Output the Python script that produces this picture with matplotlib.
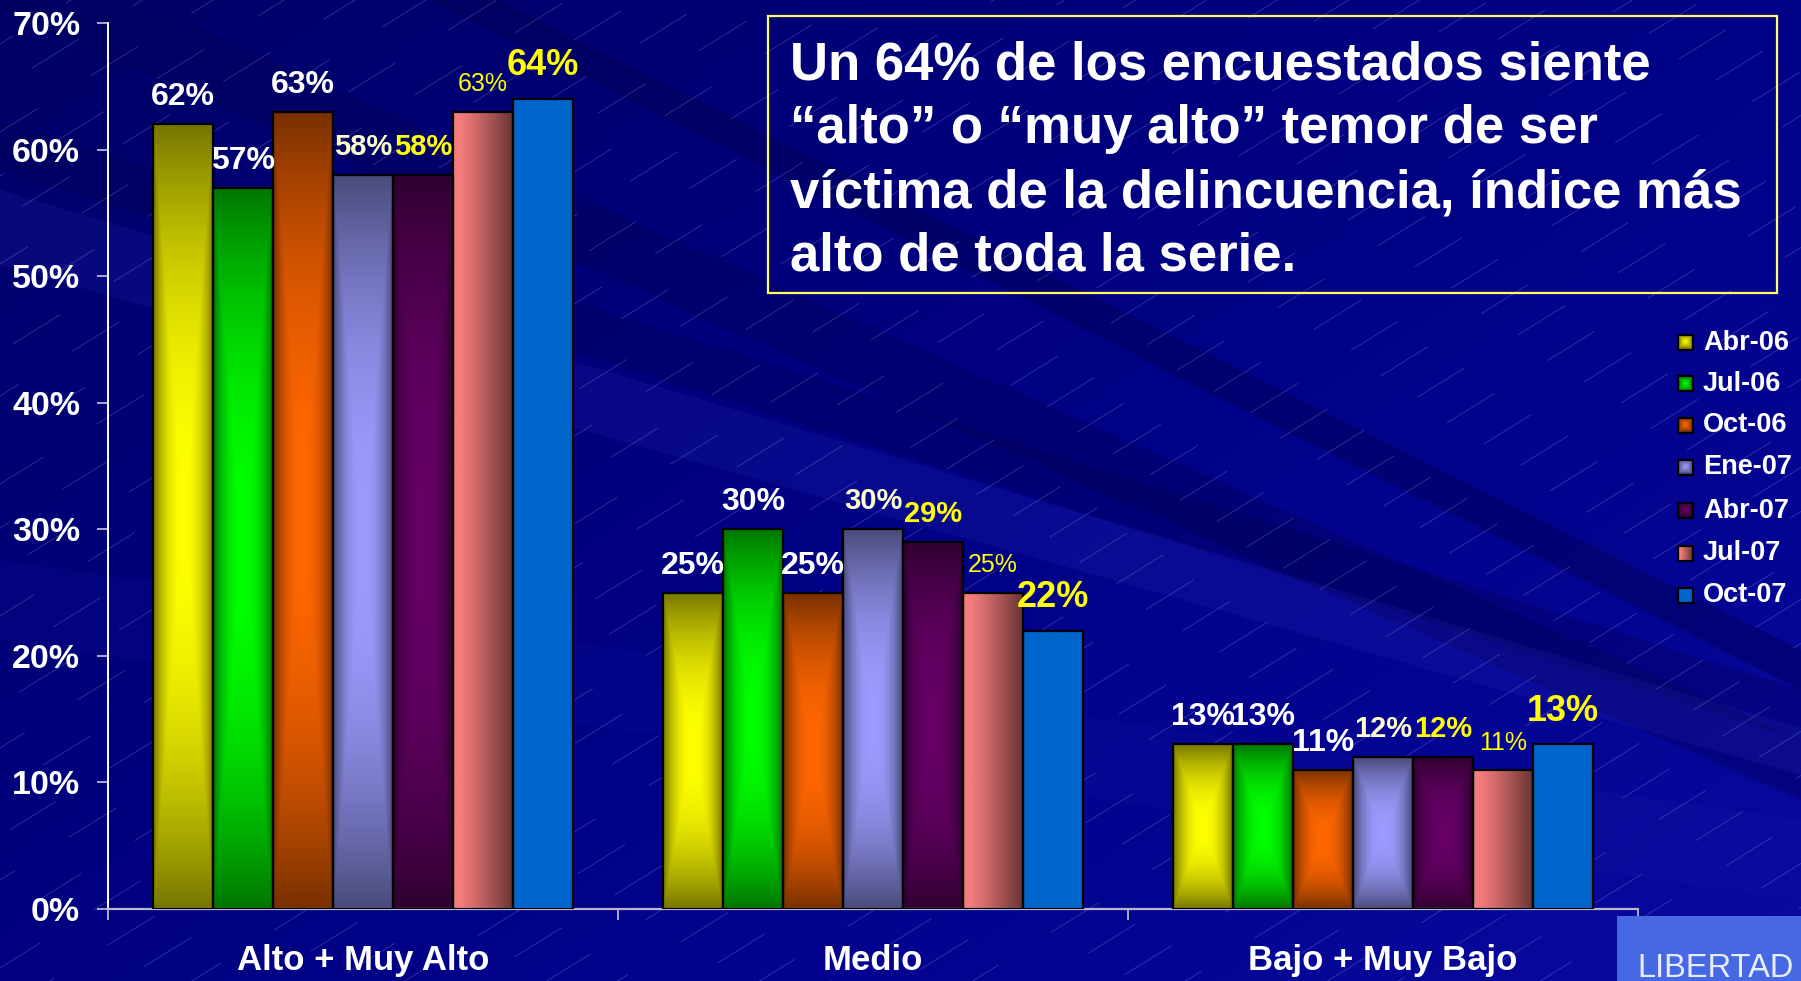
import numpy as np
import matplotlib
matplotlib.use("Agg")
import matplotlib.pyplot as plt
from matplotlib.patches import Rectangle, Polygon
from matplotlib.colors import to_rgb

# ---------------- data ----------------
categories = ["Alto + Muy Alto", "Medio", "Bajo + Muy Bajo"]
series_names = ["Abr-06", "Jul-06", "Oct-06", "Ene-07", "Abr-07", "Jul-07", "Oct-07"]
abr06 = [62, 25, 13]
jul06 = [57, 30, 13]
oct06 = [63, 25, 11]
ene07 = [58, 30, 12]
abr07 = [58, 29, 12]
jul07 = [63, 25, 11]
oct07 = [64, 22, 13]
series_values = [abr06, jul06, oct06, ene07, abr07, jul07, oct07]
y_ticks = [0, 10, 20, 30, 40, 50, 60, 70]
y_tick_labels = ["0%", "10%", "20%", "30%", "40%", "50%", "60%", "70%"]
title_lines = [
    "Un 64% de los encuestados siente",
    "\u201calto\u201d o \u201cmuy alto\u201d temor de ser",
    "v\u00edctima de la delincuencia, \u00edndice m\u00e1s",
    "alto de toda la serie.",
]
logo_text = "LIBERTAD"

# ---------------- styles ----------------
plt.rcParams['font.family'] = ['Liberation Sans', 'DejaVu Sans']
plt.rcParams['lines.scale_dashes'] = False

W, H = 1801, 981
center_cols = ["#FFFF00", "#00FF00", "#FF6600", "#9C9CFF", "#660066", None, "#0066CC"]
edge_cols = ["#767600", "#007600", "#783000", "#4A4A7A", "#300030", None, "#0066CC"]
lab_color = ["white", "white", "white", "#FFFFCC", "#FFFF00", "#FFFF00", "#FFFF00"]
lab_weight = ["bold", "bold", "bold", "bold", "bold", "normal", "bold"]
lab_size = [23, 23, 23, 21, 21, 18, 26]
lab_off = [13.7, 13.7, 13.7, 14.5, 14.5, 14.5, 17.0]


def rgb(h):
    return np.array(to_rgb(h))


def grad_image(j, nx=64, ny=256, power=2.2):
    if j == 5:  # horizontal pink -> brown
        u = np.linspace(0, 1, nx)
        s = np.clip((u - 0.12) / 0.88, 0, 1) ** 1.1
        c0, c1 = rgb("#F47C7C"), rgb("#6A3434")
        row = c0[None, :] * (1 - s)[:, None] + c1[None, :] * s[:, None]
        return np.repeat(row[None, :, :], 2, axis=0)
    if j == 6:
        return np.ones((2, 2, 3)) * rgb(center_cols[j])
    u = np.linspace(-1, 1, nx)
    v = np.linspace(-1, 1, ny)
    U, V = np.meshgrid(u, v)
    t = np.maximum(np.abs(U), np.abs(V)) ** power
    c, e = rgb(center_cols[j]), rgb(edge_cols[j])
    return c * (1 - t)[..., None] + e * t[..., None]


fig = plt.figure(figsize=(W / 100, H / 100), dpi=100)

# ---------------- background ----------------
ax_bg = fig.add_axes([0, 0, 1, 1], zorder=0)
ax_bg.set_xlim(0, W)
ax_bg.set_ylim(H, 0)
ax_bg.axis('off')
yy, xx = np.mgrid[0:H, 0:W]
f = np.clip(0.55 * xx / W + 0.45 * yy / H, 0, 1)
img = np.zeros((H, W, 3))
img[..., 2] = (0x68 + (0xA0 - 0x68) * f) / 255
img[..., 0] = 0.04 * f ** 3
img[..., 1] = 0.04 * f ** 3
ax_bg.imshow(img, extent=[0, W, H, 0], aspect='auto', interpolation='bilinear', zorder=0)


def band(y0a, y0b, y1a, y1b, color, alpha):
    poly = Polygon([(0, y0a), (W, y1a), (W, y1b), (0, y0b)], closed=True,
                   facecolor=color, edgecolor='none', alpha=alpha, zorder=1)
    ax_bg.add_patch(poly)


band(-250, -215, 650, 690, "#000055", 0.45)
band(-60, 10, 740, 800, "#000055", 0.35)
band(120, 170, 690, 740, "#000050", 0.3)
band(190, 265, 728, 775, "#3535C8", 0.16)
band(560, 640, 820, 900, "#2020B0", 0.12)

# faint dashed diagonal lines
slope = 0.62
k = 0
for c in np.arange(0, H + slope * W + 60, 44):
    phase = (k * 29) % 79
    ln, = ax_bg.plot([0, W], [c, c - slope * W], color="#A8A8E8", lw=0.6, alpha=0.3, zorder=2)
    ln.set_linestyle((phase, (40, 45)))
    k += 1
ax_bg.set_xlim(0, W)
ax_bg.set_ylim(H, 0)

# ---------------- main chart ----------------
ax = fig.add_axes([108 / W, 72 / H, 1530 / W, 886 / H], zorder=2)
ax.patch.set_alpha(0)
bw = 60 / 510
xc = np.arange(len(categories))
for j, vals in enumerate(series_values):
    xs = xc + (j - 3) * bw
    rects = ax.bar(xs, vals, width=bw, facecolor='none', edgecolor='black',
                   linewidth=1.6, zorder=3)
    for r, v, x0 in zip(rects, vals, xs):
        im = ax.imshow(grad_image(j), extent=[r.get_x(), r.get_x() + bw, 0, r.get_height()],
                       aspect='auto', origin='lower', interpolation='bilinear', zorder=2)
        im.set_clip_path(r)
        ax.annotate(f"{v}%", (x0, v), xytext=(0, lab_off[j]), textcoords='offset points',
                    ha='center', va='baseline', color=lab_color[j],
                    fontweight=lab_weight[j], fontsize=lab_size[j], zorder=5)

ax.set_xlim(-0.5, 2.5)
ax.set_ylim(0, 70)
ax.set_yticks(y_ticks)
ax.set_yticklabels(y_tick_labels, fontsize=24.5, fontweight='bold', color='white')
ax.tick_params(axis='y', direction='out', length=8, width=1.2, color='#C8C8D8', pad=12)
ax.set_xticks([-0.5, 0.5, 1.5, 2.5])
ax.set_xticklabels([])
ax.set_xticks(xc, minor=True)
ax.set_xticklabels(categories, minor=True, fontsize=25, fontweight='bold', color='white')
ax.tick_params(axis='x', which='major', direction='out', length=8, width=1.2, color='#C8C8D8')
ax.tick_params(axis='x', which='minor', length=0, pad=25)
for s in ['top', 'right']:
    ax.spines[s].set_visible(False)
ax.spines['left'].set_color('white')
ax.spines['left'].set_linewidth(1.4)
ax.spines['bottom'].set_color('#B8B8CC')
ax.spines['bottom'].set_linewidth(1.6)

# ---------------- overlay: title box, legend, logo ----------------
ax_top = fig.add_axes([0, 0, 1, 1], zorder=4)
ax_top.patch.set_alpha(0)
ax_top.set_xlim(0, W)
ax_top.set_ylim(H, 0)
ax_top.axis('off')

ax_top.add_patch(Rectangle((768, 16), 1009, 277, fill=False, edgecolor='#FFFF66', lw=1.6))
for i, line in enumerate(title_lines):
    ax_top.text(790, 80 + i * 63.5, line, color='white', fontsize=38, fontweight='bold',
                ha='left', va='baseline')

leg_centers = [342, 383.5, 425, 467, 510, 553, 595]
for j, name in enumerate(series_names):
    cy = leg_centers[j]
    cx = 1685
    s = 7.5
    g = grad_image(j, nx=16, ny=16, power=1.2)
    ax_top.imshow(g, extent=[cx - s, cx + s, cy + s, cy - s], aspect='auto',
                  interpolation='bilinear', zorder=3)
    ax_top.add_patch(Rectangle((cx - s, cy - s), 2 * s, 2 * s, fill=False,
                               edgecolor='black', lw=1.6, zorder=4))
    ax_top.text(1703, cy + 7.5, name, color='white', fontsize=19.5, fontweight='bold',
                ha='left', va='baseline')

ax_top.add_patch(Rectangle((1617, 916), W - 1617 + 5, H - 916 + 5, facecolor='#4668E2',
                           edgecolor='none', zorder=3))
ax_top.text(1637, 977, logo_text, color='#E8ECFF', fontsize=23.5,
            ha='left', va='baseline', zorder=4)
ax_top.set_xlim(0, W)
ax_top.set_ylim(H, 0)

fig.savefig("out.png", dpi=100)
